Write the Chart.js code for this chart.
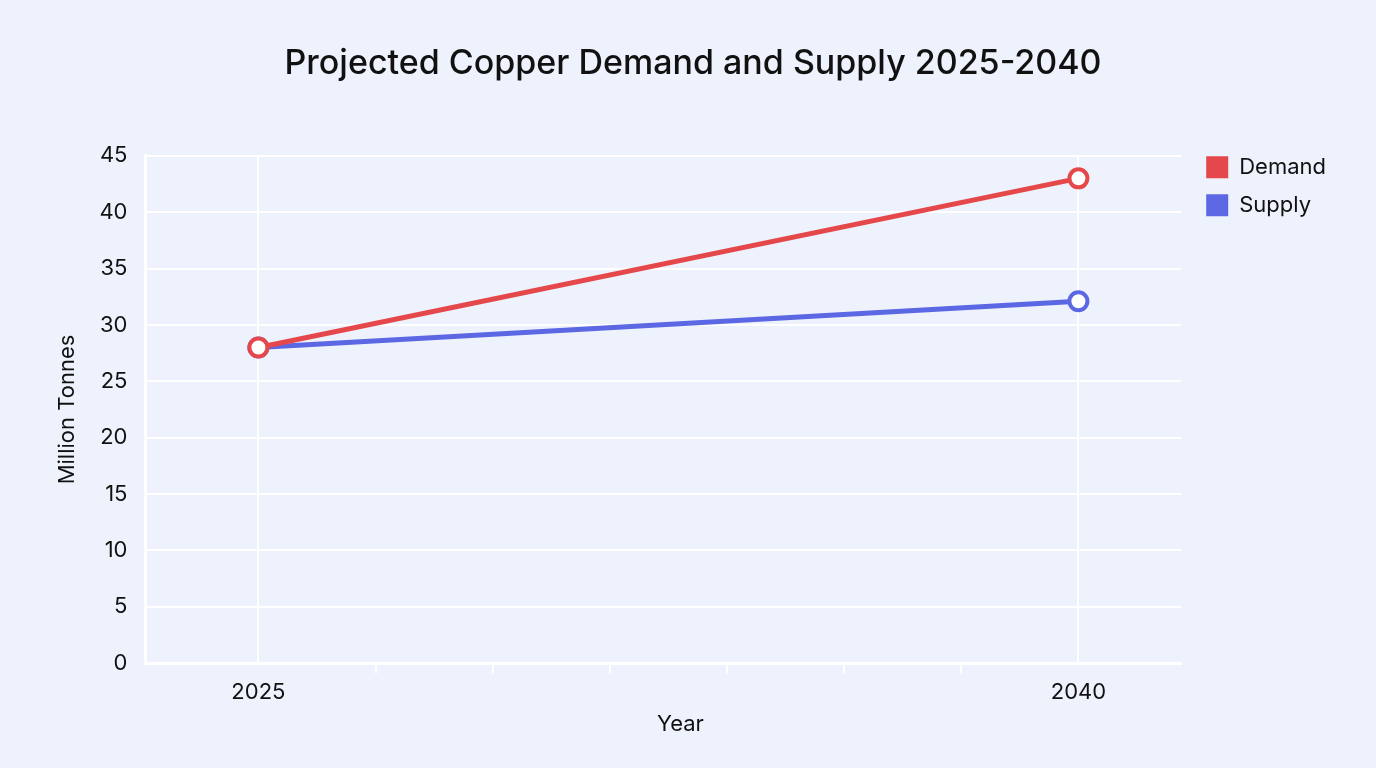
<!DOCTYPE html>
<html>
<head>
<meta charset="utf-8">
<script src="https://cdn.jsdelivr.net/npm/chart.js@4"></script>
<style>
  html, body { margin: 0; padding: 0; background: #eef2fc; }
  #wrap { width: 1376px; height: 768px; }
</style>
</head>
<body>
<div id="wrap"><canvas id="grafico"></canvas></div>
<script>
// dados do gráfico
const anos = [2025, 2040];
const demanda = [28, 43];
const oferta = [28, 32.1];
const ticksY = [0, 5, 10, 15, 20, 25, 30, 35, 40, 45];

const vermelho = "#e5484a";
const azul = "#5c67e3";

// ticks do eixo x: 2025 e 2040 com marcas intermediárias
const passos = 7;
const ticksX = [];
for (let k = 0; k <= passos; k++) ticksX.push(anos[0] + k * (anos[1] - anos[0]) / passos);

// afasta um pouco a legenda da área do gráfico
const ajusteLegenda = {
    id: "ajusteLegenda",
    afterInit(chart) {
        const leg = chart.legend;
        const fitOrig = leg.fit.bind(leg);
        leg.fit = function () { fitOrig(); this.width += 9; };
        const drawOrig = leg.draw.bind(leg);
        leg.draw = function () {
            const c = this.ctx;
            c.save();
            c.translate(9, 0);
            drawOrig();
            c.restore();
        };
    },
};

// desloca o título do eixo x um pouco para a direita
const ajusteTituloX = {
    id: "ajusteTituloX",
    beforeDraw(chart) {
        const esc = chart.scales.x;
        if (esc._ajustado) return;
        const drawTitleOrig = esc.drawTitle.bind(esc);
        esc.drawTitle = function () {
            const c = this.ctx;
            c.save();
            c.translate(17, 0);
            drawTitleOrig();
            c.restore();
        };
        esc._ajustado = true;
    },
};

const ctx = document.getElementById("grafico").getContext("2d");

new Chart(ctx, {
    type: "line",
    data: {
        datasets: [{
            label: "Demand",
            data: anos.map((a, i) => ({ x: a, y: demanda[i] })),
            borderColor: vermelho,
            backgroundColor: vermelho,
            borderWidth: 5,
            pointRadius: 9,
            pointBorderWidth: 4,
            pointBackgroundColor: "#ffffff",
            pointBorderColor: vermelho,
        }, {
            label: "Supply",
            data: anos.map((a, i) => ({ x: a, y: oferta[i] })),
            borderColor: azul,
            backgroundColor: azul,
            borderWidth: 5,
            pointRadius: 9,
            pointBorderWidth: 4,
            pointBackgroundColor: "#ffffff",
            pointBorderColor: azul,
        }],
    },
    plugins: [ajusteLegenda, ajusteTituloX],
    options: {
        responsive: true,
        maintainAspectRatio: false,
        animation: false,
        layout: { padding: { left: 50, right: 40, top: 10, bottom: 30 } },
        plugins: {
            title: {
                display: true,
                text: "Projected Copper Demand and Supply 2025-2040",
                color: "#111111",
                font: { family: "Inter", size: 34, weight: "500" },
                padding: { top: 33, bottom: 72 },
            },
            legend: {
                position: "right",
                align: "start",
                title: {
                    display: true,
                    text: " ",
                    padding: { top: 129, bottom: 0 },
                    font: { size: 1 },
                },
                labels: {
                    color: "#111111",
                    font: { family: "Inter", size: 22 },
                    boxWidth: 22,
                    boxHeight: 22,
                    padding: 16,
                    generateLabels: (chart) => chart.data.datasets.map((ds, i) => ({
                        text: ds.label,
                        fillStyle: ds.borderColor,
                        strokeStyle: ds.borderColor,
                        fontColor: "#111111",
                        lineWidth: 0,
                        datasetIndex: i,
                    })),
                },
            },
            tooltip: { enabled: false },
        },
        scales: {
            x: {
                type: "linear",
                min: 2022.935,
                max: 2041.88,
                afterBuildTicks: (axis) => {
                    axis.ticks = ticksX.map(v => ({ value: v }));
                },
                ticks: {
                    color: "#111111",
                    font: { family: "Inter", size: 22 },
                    padding: 6,
                    maxRotation: 0,
                    autoSkip: false,
                    callback: (v) => anos.includes(Math.round(v * 1000) / 1000) ? String(v) : "",
                },
                grid: {
                    color: (c) => (c.index === 0 || c.index === passos) ? "#ffffff" : "rgba(0,0,0,0)",
                    tickColor: (c) => (c.index === 0 || c.index === passos) ? "rgba(0,0,0,0)" : "#ffffff",
                    lineWidth: 2,
                    tickLength: 10,
                    drawTicks: true,
                },
                border: { color: "#ffffff", width: 3 },
                title: {
                    display: true,
                    text: "Year",
                    color: "#111111",
                    font: { family: "Inter", size: 22 },
                    padding: { top: 0, bottom: 0 },
                },
            },
            y: {
                min: 0,
                max: 45,
                afterBuildTicks: (axis) => {
                    axis.ticks = ticksY.map(v => ({ value: v }));
                },
                ticks: {
                    color: "#111111",
                    font: { family: "Inter", size: 22 },
                    padding: 18,
                },
                grid: {
                    color: "#ffffff",
                    lineWidth: 2,
                    drawTicks: false,
                },
                border: { color: "#ffffff", width: 3 },
                title: {
                    display: true,
                    text: "Million Tonnes",
                    color: "#111111",
                    font: { family: "Inter", size: 22 },
                    padding: { bottom: 1 },
                },
            },
        },
    },
});
</script>
</body>
</html>
